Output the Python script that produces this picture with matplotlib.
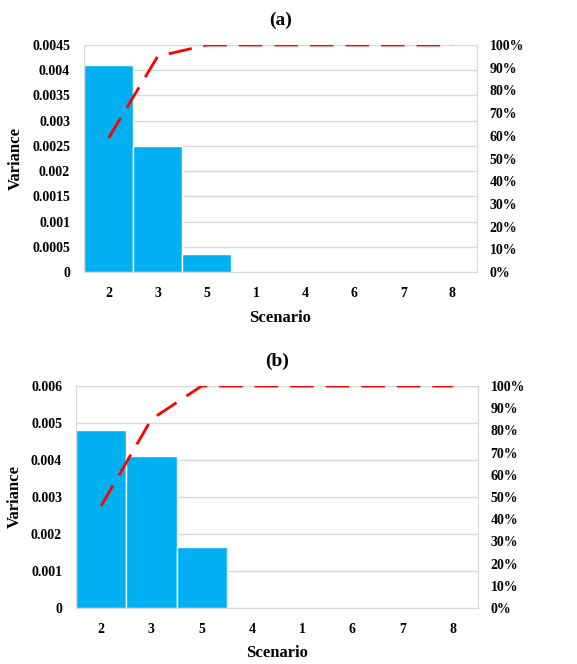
import matplotlib.pyplot as plt
from matplotlib.ticker import FuncFormatter

# Panel (a)
scen_a = ['2', '3', '5', '1', '4', '6', '7', '8']
var_a = [0.0041, 0.0025, 0.00035, 0, 0, 0, 0, 0]
cum_a = [0.59, 0.95, 1.0, 1.0, 1.0, 1.0, 1.0, 1.0]
yticks_a = [0, 0.0005, 0.001, 0.0015, 0.002, 0.0025, 0.003, 0.0035, 0.004, 0.0045]
ylabels_a = ['0', '0.0005', '0.001', '0.0015', '0.002', '0.0025', '0.003', '0.0035', '0.004', '0.0045']

# Panel (b)
scen_b = ['2', '3', '5', '4', '1', '6', '7', '8']
var_b = [0.0048, 0.0041, 0.00165, 0, 0, 0, 0, 0]
cum_b = [0.46, 0.85, 1.0, 1.0, 1.0, 1.0, 1.0, 1.0]
yticks_b = [0, 0.001, 0.002, 0.003, 0.004, 0.005, 0.006]
ylabels_b = ['0', '0.001', '0.002', '0.003', '0.004', '0.005', '0.006']

pct_ticks = [i / 10 for i in range(11)]

plt.rcParams['font.family'] = ['Liberation Serif', 'DejaVu Serif']
plt.rcParams['font.weight'] = 'bold'

W, H = 577, 664
fig = plt.figure(figsize=(W / 100, H / 100), dpi=100)


def pareto(rect, scen, var, cum, yticks, ylabels, title, title_y, xlab_y):
    l, t, r, b = rect
    ax = fig.add_axes([l / W, 1 - b / H, (r - l) / W, (b - t) / H])
    x = list(range(len(scen)))
    ax.bar(x, var, width=1.0, color='#00B0F0', edgecolor='white', linewidth=1, zorder=2)
    ax.set_xlim(-0.5, len(scen) - 0.5)
    ax.set_ylim(yticks[0], yticks[-1])
    ax.set_yticks(yticks)
    ax.set_yticklabels(ylabels)
    ax.set_xticks(x)
    ax.set_xticklabels(scen)
    ax.grid(axis='y', color='#d9d9d9', linewidth=1, zorder=0)
    ax.set_axisbelow(True)
    for s in ax.spines.values():
        s.set_color('#d9d9d9')
    ax.tick_params(length=0, labelsize=10, pad=10)
    ax.tick_params(axis='x', pad=11)
    ax.set_ylabel('Variance', fontsize=12, fontweight='bold', labelpad=6)

    ax2 = ax.twinx()
    ax2.plot(x, cum, color='#FF0000', linestyle=(0, (8.5, 4.3)), linewidth=2, zorder=3)
    ax2.set_ylim(0, 1)
    ax2.set_yticks(pct_ticks)
    ax2.yaxis.set_major_formatter(FuncFormatter(lambda v, p: f'{v * 100:.0f}%'))
    ax2.tick_params(length=0, labelsize=10, pad=9)
    for s in ax2.spines.values():
        s.set_visible(False)

    fig.text((l + r) / 2 / W, 1 - title_y / H, title, ha='center', va='center',
             fontsize=14, fontweight='bold')
    fig.text((l + r) / 2 / W, 1 - xlab_y / H, 'Scenario', ha='center', va='center',
             fontsize=12, fontweight='bold')


pareto((84, 45, 477, 272), scen_a, var_a, cum_a, yticks_a, ylabels_a, '(a)', 20, 318)
pareto((76, 386, 478, 608), scen_b, var_b, cum_b, yticks_b, ylabels_b, '(b)', 361, 653)

fig.savefig('out.png', dpi=100)
